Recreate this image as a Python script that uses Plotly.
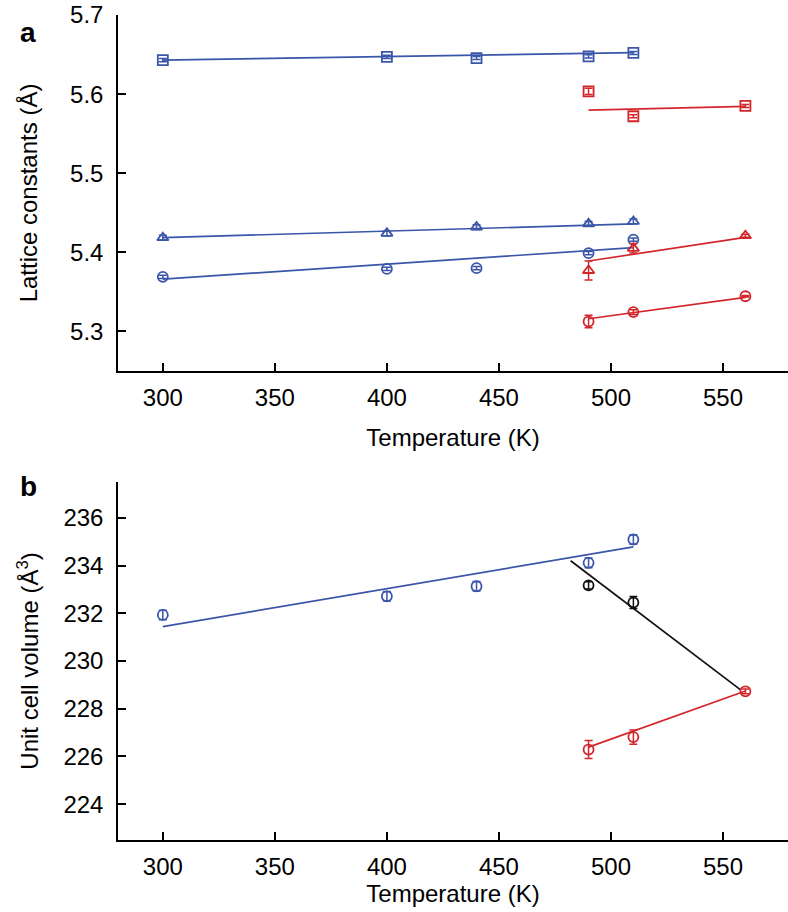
import plotly.graph_objects as go
from plotly.subplots import make_subplots

# ---------------- data ----------------
T_blue = [300, 400, 440, 490, 510]
T_red = [490, 510, 560]
T_black = [490, 510]

# panel a: lattice constants (Å)
a_blue_sq = [5.643, 5.647, 5.6456, 5.6477, 5.652]
a_blue_sq_err = [0.002, 0.002, 0.002, 0.002, 0.002]
a_blue_tri = [5.4185, 5.424, 5.432, 5.436, 5.439]
a_blue_tri_err = [0.003, 0.003, 0.003, 0.003, 0.003]
a_blue_circ = [5.369, 5.379, 5.380, 5.399, 5.416]
a_blue_circ_err = [0.002, 0.002, 0.002, 0.002, 0.002]
a_red_sq = [5.6035, 5.572, 5.585]
a_red_sq_err = [0.004, 0.002, 0.002]
a_red_tri = [5.377, 5.405, 5.421]
a_red_tri_err = [0.012, 0.006, 0.002]
a_red_circ = [5.3125, 5.3245, 5.3445]
a_red_circ_err = [0.008, 0.003, 0.001]

# fit lines panel a (endpoints)
fitT_blue = [300, 510]
fitT_red = [490, 560]
fit_a_blue_sq = [5.643, 5.6525]
fit_a_blue_tri = [5.4185, 5.436]
fit_a_blue_circ = [5.366, 5.406]
fit_a_red_sq = [5.5797, 5.5845]
fit_a_red_tri = [5.389, 5.419]
fit_a_red_circ = [5.316, 5.343]

# panel b: unit cell volume (Å^3)
b_blue = [231.93, 232.71, 233.13, 234.11, 235.09]
b_blue_err = [0.2, 0.2, 0.2, 0.2, 0.2]
b_black = [233.17, 232.45]
b_black_err = [0.15, 0.25]
b_red = [226.29, 226.81, 228.73]
b_red_err = [0.38, 0.3, 0.1]

fitT_black = [482, 558]
fit_b_blue = [231.44, 234.78]
fit_b_black = [234.2, 228.78]
fit_b_red = [226.39, 228.74]

x_ticks = [300, 350, 400, 450, 500, 550]
a_ticks = [5.3, 5.4, 5.5, 5.6, 5.7]
b_ticks = [224, 226, 228, 230, 232, 234, 236]

BLUE = "#3a56a8"
RED = "#d3262b"
BLACK = "#111111"

fig = make_subplots(rows=2, cols=1, vertical_spacing=0.13)


def pts(x, y, err, color, symbol, row):
    fig.add_trace(go.Scatter(
        x=x, y=y, mode="markers",
        marker=dict(symbol=symbol, size=10, color=color,
                    line=dict(color=color, width=1.8)),
        error_y=dict(type="data", array=err, visible=True, color=color,
                     thickness=1.5, width=4),
        showlegend=False), row=row, col=1)


def line(x, y, color, row):
    fig.add_trace(go.Scatter(x=x, y=y, mode="lines",
                             line=dict(color=color, width=1.7),
                             showlegend=False), row=row, col=1)


# panel a
line(fitT_blue, fit_a_blue_sq, BLUE, 1)
line(fitT_blue, fit_a_blue_tri, BLUE, 1)
line(fitT_blue, fit_a_blue_circ, BLUE, 1)
line(fitT_red, fit_a_red_sq, RED, 1)
line(fitT_red, fit_a_red_tri, RED, 1)
line(fitT_red, fit_a_red_circ, RED, 1)
pts(T_blue, a_blue_sq, a_blue_sq_err, BLUE, "square-open", 1)
pts(T_blue, a_blue_tri, a_blue_tri_err, BLUE, "triangle-up-open", 1)
pts(T_blue, a_blue_circ, a_blue_circ_err, BLUE, "circle-open", 1)
pts(T_red, a_red_sq, a_red_sq_err, RED, "square-open", 1)
pts(T_red, a_red_tri, a_red_tri_err, RED, "triangle-up-open", 1)
pts(T_red, a_red_circ, a_red_circ_err, RED, "circle-open", 1)

# panel b
line(fitT_blue, fit_b_blue, BLUE, 2)
line(fitT_black, fit_b_black, BLACK, 2)
line(fitT_red, fit_b_red, RED, 2)
pts(T_blue, b_blue, b_blue_err, BLUE, "circle-open", 2)
pts(T_black, b_black, b_black_err, BLACK, "circle-open", 2)
pts(T_red, b_red, b_red_err, RED, "circle-open", 2)

FONT = "Liberation Sans, Arial, sans-serif"
axis_common = dict(showline=True, linecolor="black", linewidth=1.5,
                   ticks="inside", ticklen=8, tickwidth=1.5, tickcolor="black",
                   showgrid=False, zeroline=False, mirror=False,
                   tickfont=dict(size=24, color="black", family=FONT),
                   title_font=dict(size=24, color="black", family=FONT))

fig.update_xaxes(range=[280, 579], tickvals=x_ticks,
                 title_text="Temperature (K)", title_standoff=20,
                 ticklabelstandoff=4, row=1, col=1, **axis_common)
fig.update_xaxes(range=[280, 579], tickvals=x_ticks,
                 title_text="Temperature (K)", title_standoff=2,
                 ticklabelstandoff=4, row=2, col=1, **axis_common)

fig.update_yaxes(range=[5.25, 5.7], tickvals=a_ticks, tickformat=".1f",
                 title_text="Lattice constants (Å)", title_standoff=26,
                 ticklabelstandoff=8, row=1, col=1, **axis_common)
fig.update_yaxes(range=[222.5, 237.5], tickvals=b_ticks,
                 title_text="Unit cell volume (Å<sup>3</sup>)", title_standoff=18,
                 ticklabelstandoff=8, row=2, col=1, **axis_common)

fig.update_layout(
    width=788, height=912,
    margin=dict(l=118, r=0, t=15, b=72),
    paper_bgcolor="white", plot_bgcolor="white",
    font=dict(family=FONT, color="black"),
    annotations=[
        dict(text="<b>a</b>", x=18, y=15, xref="paper", yref="paper",
             showarrow=False, font=dict(size=28, family=FONT, color="black")),
        dict(text="<b>b</b>", x=18, y=486, xref="paper", yref="paper",
             showarrow=False, font=dict(size=28, family=FONT, color="black")),
    ],
)
# convert pixel positions of the panel letters to paper coords
H_PLOT = 912 - 15 - 72
W_PLOT = 788 - 118
for ann in fig.layout.annotations:
    px, py = ann.x, ann.y
    ann.x = (px - 118) / W_PLOT
    ann.y = 1 - (py - 15) / H_PLOT
fig.update_yaxes(domain=[0.5685, 1.0], row=1, col=1)
fig.update_yaxes(domain=[0.0, 0.434], row=2, col=1)

fig.write_html("out.html",
               config={"displayModeBar": False},
               post_script="document.body.style.margin='0';"
                           "document.body.style.overflow='hidden';")
